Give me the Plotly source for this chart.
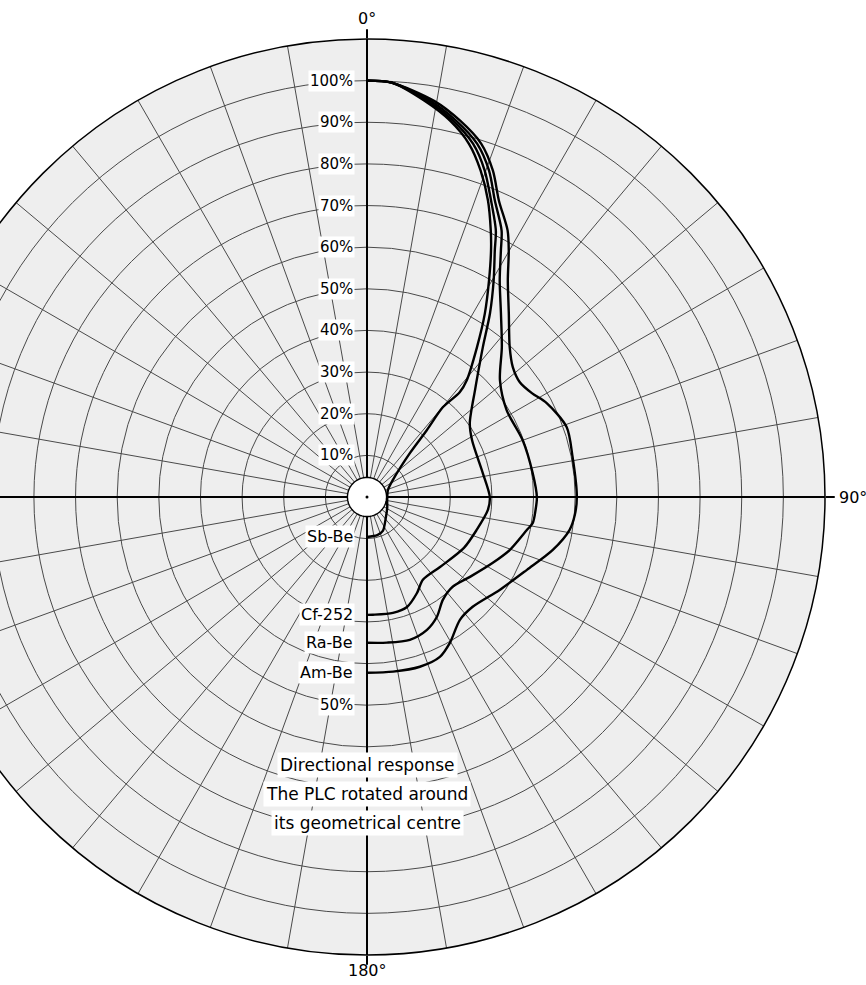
import plotly.graph_objects as go

# Directional response of the PLC for four neutron sources (relative counts, %)
sbbe_theta = [0, 3.4, 8.2, 12.4, 16.1, 19.2, 22.2, 24.9, 26.7, 29.4, 32.7, 36.3, 40.5, 41.5,
              40.2, 41.8, 44.3, 56.8, 71.6, 98.5, 118.0, 136.5, 155.0, 165.0, 180.0]
sbbe_r = [100, 99.7, 96.2, 92.6, 88.3, 83.0, 76.9, 70.6, 66.3, 59.7, 52.4, 44.6, 36.9, 33.6,
          28.2, 21.6, 14.8, 7.4, 5.3, 4.9, 5.5, 6.6, 9.0, 9.5, 9.6]

cf_theta = [0, 3.4, 8.6, 12.9, 16.7, 19.8, 22.7, 25.8, 27.4, 30.3, 33.8, 37.7, 43.2, 45.3,
            54.3, 61.5, 78.3, 90.0, 96.1, 106.7, 117.7, 133.8, 146.0, 152.5, 160.0, 167.4,
            177.1, 180.0]
cf_r = [100, 99.7, 96.3, 92.7, 88.6, 83.4, 77.2, 71.1, 66.7, 60.3, 53.1, 45.5, 38.5, 36.5,
        30.4, 28.7, 28.4, 29.5, 29.2, 27.5, 26.3, 24.3, 24.0, 26.0, 28.1, 28.5, 28.3, 28.3]

ra_theta = [0, 3.4, 9.0, 13.3, 17.3, 20.5, 23.3, 26.8, 28.5, 31.5, 36.1, 42.0, 48.7,
            58.1, 69.9, 81.8, 90.0, 94.4, 98.9, 101.7, 110.3, 117.6, 127.8, 136.3, 143.6,
            149.7, 155.7, 163.3, 172.2, 180.0]
ra_r = [100, 99.7, 96.4, 92.9, 88.9, 83.7, 77.6, 71.7, 67.4, 61.0, 54.6, 48.4, 42.5,
        39.5, 39.8, 40.2, 40.8, 40.6, 40.3, 39.2, 36.6, 34.1, 31.3, 29.8, 30.7, 33.3, 35.0,
        35.8, 35.3, 35.0]

am_theta = [0, 3.4, 9.6, 13.9, 17.9, 21.1, 24.0, 27.8, 29.9, 33.0, 37.7, 43.6, 48.3, 53.1,
            57.8, 62.4, 70.7, 79.0, 90.0, 94.9, 99.2, 105.9, 114.5, 125.0, 136.1, 142.9,
            150.4, 155.5, 162.7, 171.5, 180.0]
am_r = [100, 99.7, 96.5, 93.1, 89.2, 84.0, 77.9, 72.4, 68.3, 62.1, 55.7, 49.7, 46.9, 45.9,
        46.8, 48.7, 50.8, 50.3, 50.4, 50.1, 49.3, 46.4, 42.2, 38.9, 36.6, 37.0, 40.3, 42.2,
        42.7, 42.4, 42.2]

source_names = ["Sb-Be", "Cf-252", "Ra-Be", "Am-Be"]
source_theta = [sbbe_theta, cf_theta, ra_theta, am_theta]
source_r = [sbbe_r, cf_r, ra_r, am_r]

ring_values = [10, 20, 30, 40, 50, 60, 70, 80, 90, 100]
ring_labels = ["10%", "20%", "30%", "40%", "50%", "60%", "70%", "80%", "90%", "100%"]
spoke_angles = list(range(0, 360, 10))
main_angles = [0, 90, 180, 270]
angle_labels = ["0°", "90°", "180°"]

plc_radius = 4.7  # size of the counter body drawn at the centre
plc_theta = list(range(0, 361, 5))

caption_lines = ["Directional response", "The PLC rotated around", "its geometrical centre"]

R_MAX = 110
W, H = 957, 985
CX, CY, RAD = 458, 497, 458
FONT = "DejaVu Sans"


def rpx(r):
    return r * RAD / R_MAX


def paper(x, y):
    return x / W, 1 - y / H


dom_x = [(CX - RAD) / W, (CX + RAD) / W]
dom_y = [1 - (CY + RAD) / H, 1 - (CY - RAD) / H]

fig = go.Figure()

# the fine grid lives on the first polar subplot; it needs a trace to be drawn
fig.add_trace(go.Scatterpolar(
    r=[0], theta=[0], mode="markers", marker=dict(opacity=0), subplot="polar",
    hoverinfo="skip", showlegend=False))

# counter body at the rotation centre
fig.add_trace(go.Scatterpolar(
    r=[plc_radius] * len(plc_theta), theta=plc_theta, mode="lines", fill="toself",
    fillcolor="white", line=dict(color="black", width=1.4), subplot="polar2",
    hoverinfo="skip", showlegend=False))
fig.add_trace(go.Scatterpolar(
    r=[0], theta=[0], mode="markers", marker=dict(color="black", size=3),
    subplot="polar2", hoverinfo="skip", showlegend=False))

for name, th, rr in zip(source_names, source_theta, source_r):
    fig.add_trace(go.Scatterpolar(
        r=rr, theta=th, mode="lines", name=name, subplot="polar2",
        line=dict(color="black", width=2.4, shape="spline", smoothing=0.8),
        showlegend=False))

fig.update_layout(
    width=W, height=H, margin=dict(l=0, r=0, t=0, b=0),
    paper_bgcolor="white", showlegend=False,
    polar=dict(
        domain=dict(x=dom_x, y=dom_y), bgcolor="#eeeeee",
        radialaxis=dict(range=[0, R_MAX], tickvals=ring_values, showticklabels=False,
                        ticks="", showline=False, gridcolor="#4a4a4a", gridwidth=1),
        angularaxis=dict(rotation=90, direction="clockwise", tickvals=spoke_angles,
                         showticklabels=False, ticks="", showline=False,
                         gridcolor="#4a4a4a", gridwidth=1),
    ),
    polar2=dict(
        domain=dict(x=dom_x, y=dom_y), bgcolor="rgba(0,0,0,0)",
        radialaxis=dict(range=[0, R_MAX], visible=False),
        angularaxis=dict(rotation=90, direction="clockwise", tickvals=main_angles,
                         showticklabels=False, showgrid=True, gridcolor="black",
                         gridwidth=2, ticks="outside", ticklen=9, tickwidth=1.5,
                         tickcolor="black", showline=True, linecolor="black",
                         linewidth=1.5),
    ),
)

annotations = []
# direction labels outside the rim
angle_label_pos = [(CX, CY - RAD - 21, "center"), (CX + RAD + 12, CY, "left"),
                   (CX, CY + RAD + 15, "center")]
for lab, (ax, ay, anchor) in zip(angle_labels, angle_label_pos):
    x, y = paper(ax, ay)
    annotations.append(dict(x=x, y=y, xref="paper", yref="paper", text=lab,
                            xanchor=anchor, yanchor="middle", showarrow=False,
                            font=dict(family=FONT, size=16, color="black")))

# percentage scale along the 0° axis
for v, lab in zip(ring_values, ring_labels):
    x, y = paper(CX - 12, CY - rpx(v))
    annotations.append(dict(x=x, y=y, xref="paper", yref="paper", text=lab,
                            xanchor="right", yanchor="middle", showarrow=False,
                            bgcolor="white", borderpad=1,
                            font=dict(family=FONT, size=15, color="black")))

# source names at the 180° end of each curve
for name, rr in zip(source_names, source_r):
    x, y = paper(CX - 12, CY + rpx(rr[-1]))
    annotations.append(dict(x=x, y=y, xref="paper", yref="paper", text=name,
                            xanchor="right", yanchor="middle", showarrow=False,
                            bgcolor="white", borderpad=1,
                            font=dict(family=FONT, size=16, color="black")))

x, y = paper(CX - 12, CY + rpx(50))
annotations.append(dict(x=x, y=y, xref="paper", yref="paper", text="50%",
                        xanchor="right", yanchor="middle", showarrow=False,
                        bgcolor="white", borderpad=1,
                        font=dict(family=FONT, size=15, color="black")))

for i, line in enumerate(caption_lines):
    x, y = paper(CX, 765 + 29 * i)
    annotations.append(dict(x=x, y=y, xref="paper", yref="paper", text=line,
                            xanchor="center", yanchor="middle", showarrow=False,
                            bgcolor="white", borderpad=2,
                            font=dict(family=FONT, size=17, color="black")))

fig.update_layout(annotations=annotations)

shift = "var d=document.getElementById('{plot_id}');d.style.marginLeft='-%dpx';" \
        "document.body.style.margin='0';document.body.style.overflow='hidden';" % (CX - 367)
fig.write_html("out.html", post_script=shift)
